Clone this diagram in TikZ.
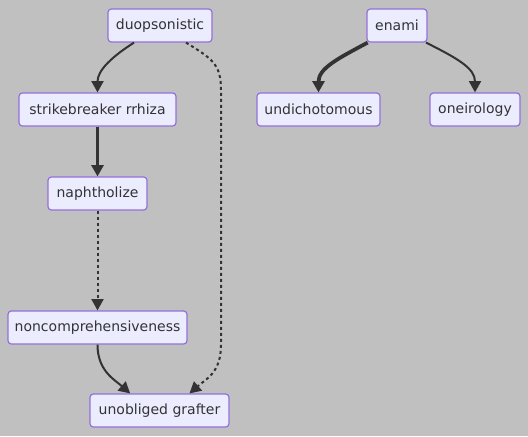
\documentclass[tikz,border=0pt]{standalone}
\usepackage{fontspec}
\setmainfont{DejaVu Sans}
\usetikzlibrary{arrows.meta}
\definecolor{bgc}{RGB}{192,192,192}
\definecolor{nfill}{RGB}{236,236,255}
\definecolor{nbord}{RGB}{147,112,219}
\definecolor{ecol}{RGB}{51,51,51}
\tikzset{
  box/.style={draw=nbord, fill=nfill, line width=0.9pt, rounded corners=2.5pt,
    inner sep=0pt, minimum height=24.75pt, minimum width=#1*0.75pt,
    font=\fontsize{10.5}{12}\selectfont, text=ecol},
  edge/.style={draw=ecol, line width=1.5pt, -{Triangle[length=8.5pt,width=9pt]}},
  thickedge/.style={edge, line width=2.8pt},
  dotedge/.style={edge, dash pattern=on 2.25pt off 2.25pt}
}
\begin{document}
\begin{tikzpicture}[x=0.75pt,y=-0.75pt]
\fill[bgc] (0,0) rectangle (528,436);
\useasboundingbox (0,0) rectangle (528,436);
\node[box=104] (duo) at (160,25.5) {duopsonistic};
\node[box=157] (stk) at (97.5,109.5) {strikebreaker rrhiza};
\node[box=99] (nap) at (97.5,193.5) {naphtholize};
\node[box=179] (non) at (97.5,327.5) {noncomprehensiveness};
\node[box=139] (uno) at (159.5,410.5) {unobliged grafter};
\node[box=60] (ena) at (397,25.5) {enami};
\node[box=123] (und) at (318.5,109.5) {undichotomous};
\node[box=90] (one) at (475,109.5) {oneirology};
\coordinate (d1) at (221,90);
\coordinate (d2) at (221,345);
\draw[edge] ([xshift=-19.5pt]duo.south) .. controls +(-22,14) and +(0,-22) .. (stk.north);
\draw[thickedge] (stk.south) -- (nap.north);
\draw[dotedge] (nap.south) -- (non.north);
\draw[edge] (non.south) .. controls +(0,26) and +(-16,-14) .. ([xshift=-22pt]uno.north);
\draw[dotedge] ([xshift=19.5pt]duo.south) .. controls +(26,16) and +(0,-26) .. (d1) -- (d2) .. controls +(0,28) and +(16,-14) .. ([xshift=22.5pt]uno.north);
\draw[thickedge] ([xshift=-22pt]ena.south) .. controls +(-30,16) and +(0,-24) .. (und.north);
\draw[edge] ([xshift=21.75pt]ena.south) .. controls +(32,16) and +(0,-24) .. (one.north);
\end{tikzpicture}
\end{document}
